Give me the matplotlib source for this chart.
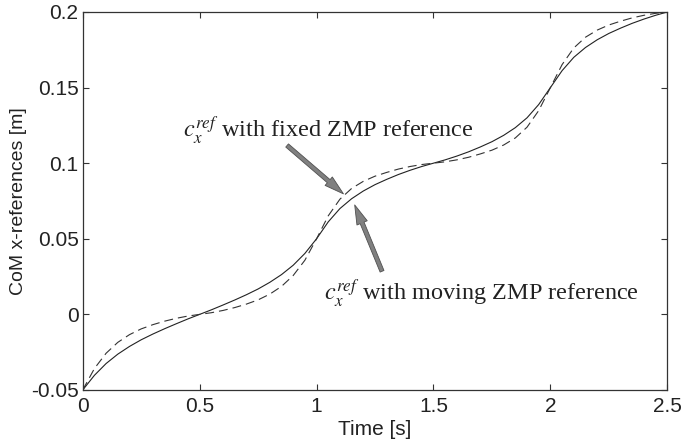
import numpy as np
from matplotlib import pyplot as plt

# values
t = [0.00, 0.05, 0.10, 0.15, 0.20, 0.25, 0.30, 0.35, 0.40, 0.45,
     0.50, 0.55, 0.60, 0.65, 0.70, 0.75, 0.80, 0.85, 0.90, 0.95,
     1.00, 1.05, 1.10, 1.15, 1.20, 1.25, 1.30, 1.35, 1.40, 1.45,
     1.50, 1.55, 1.60, 1.65, 1.70, 1.75, 1.80, 1.85, 1.90, 1.95,
     2.00, 2.05, 2.10, 2.15, 2.20, 2.25, 2.30, 2.35, 2.40, 2.45, 2.50]

# CoM reference with moving ZMP reference (solid)
c_moving = [-0.0500, -0.0403, -0.0325, -0.0263, -0.0212, -0.0168, -0.0130, -0.0095, -0.0062, -0.0030,
            0.0000, 0.0030, 0.0062, 0.0095, 0.0130, 0.0168, 0.0212, 0.0263, 0.0325, 0.0403,
            0.0500, 0.0612, 0.0700, 0.0765, 0.0816, 0.0858, 0.0893, 0.0925, 0.0953, 0.0978,
            0.1000, 0.1022, 0.1047, 0.1075, 0.1107, 0.1142, 0.1184, 0.1235, 0.1300, 0.1388,
            0.1500, 0.1612, 0.1700, 0.1765, 0.1816, 0.1858, 0.1893, 0.1925, 0.1953, 0.1978, 0.2000]

# CoM reference with fixed ZMP reference (dashed)
c_fixed = [-0.0500, -0.0358, -0.0257, -0.0185, -0.0134, -0.0096, -0.0068, -0.0045, -0.0026, -0.0011,
           0.0000, 0.0011, 0.0026, 0.0045, 0.0068, 0.0096, 0.0134, 0.0185, 0.0257, 0.0358,
           0.0500, 0.0652, 0.0762, 0.0833, 0.0880, 0.0914, 0.0939, 0.0961, 0.0978, 0.0991,
           0.1000, 0.1009, 0.1022, 0.1039, 0.1061, 0.1086, 0.1120, 0.1167, 0.1238, 0.1348,
           0.1500, 0.1652, 0.1762, 0.1833, 0.1880, 0.1914, 0.1939, 0.1961, 0.1978, 0.1991, 0.2000]

xticks = [0, 0.5, 1, 1.5, 2, 2.5]
xtick_labels = ['0', '0.5', '1', '1.5', '2', '2.5']
yticks = [-0.05, 0, 0.05, 0.1, 0.15, 0.2]
ytick_labels = ['-0.05', '0', '0.05', '0.1', '0.15', '0.2']

plt.rcParams['font.family'] = ['Liberation Sans', 'DejaVu Sans']
plt.rcParams['mathtext.fontset'] = 'stix'

fig = plt.figure(figsize=(6.82, 4.48), dpi=100)
ax = fig.add_axes([0.1213, 0.1295, 0.8572, 0.8438])

ax.plot(t, c_moving, '-', color='#222222', lw=0.8)
ax.plot(t, c_fixed, '--', color='#333333', lw=0.8, dashes=[8, 4.5])

ax.set_xlim(0, 2.5)
ax.set_ylim(-0.05, 0.2)
ax.set_xticks(xticks)
ax.set_xticklabels(xtick_labels)
ax.set_yticks(yticks)
ax.set_yticklabels(ytick_labels)
ax.tick_params(direction='in', length=4, width=0.8, labelsize=15,
               top=True, right=True, colors='#333333', labelcolor='#222222')
ax.tick_params(axis='x', pad=5)
ax.tick_params(axis='y', pad=3)
for s in ax.spines.values():
    s.set_linewidth(0.9)
    s.set_color('#333333')

ax.set_xlabel('Time [s]', fontsize=15, labelpad=3, color='#222222')
ax.set_ylabel('CoM x-references [m]', fontsize=14, labelpad=3, color='#222222')

# annotations
arrow = dict(facecolor='#808080', edgecolor='#505050', lw=0.6,
             width=3, headwidth=8, headlength=14, shrink=0)
ax.annotate('', xy=(1.115, 0.0797), xytext=(0.874, 0.1117), arrowprops=arrow)
ax.annotate('', xy=(1.163, 0.0724), xytext=(1.28, 0.0285), arrowprops=arrow)

ax.text(0.43, 0.117, r'$c_x^{ref}$ with fixed ZMP reference',
        family='Liberation Serif', fontsize=17.5, color='#222222', va='baseline')
ax.text(1.03, 0.0095, r'$c_x^{ref}$ with moving ZMP reference',
        family='Liberation Serif', fontsize=17.5, color='#222222', va='baseline')

plt.savefig('out.png', dpi=100)
